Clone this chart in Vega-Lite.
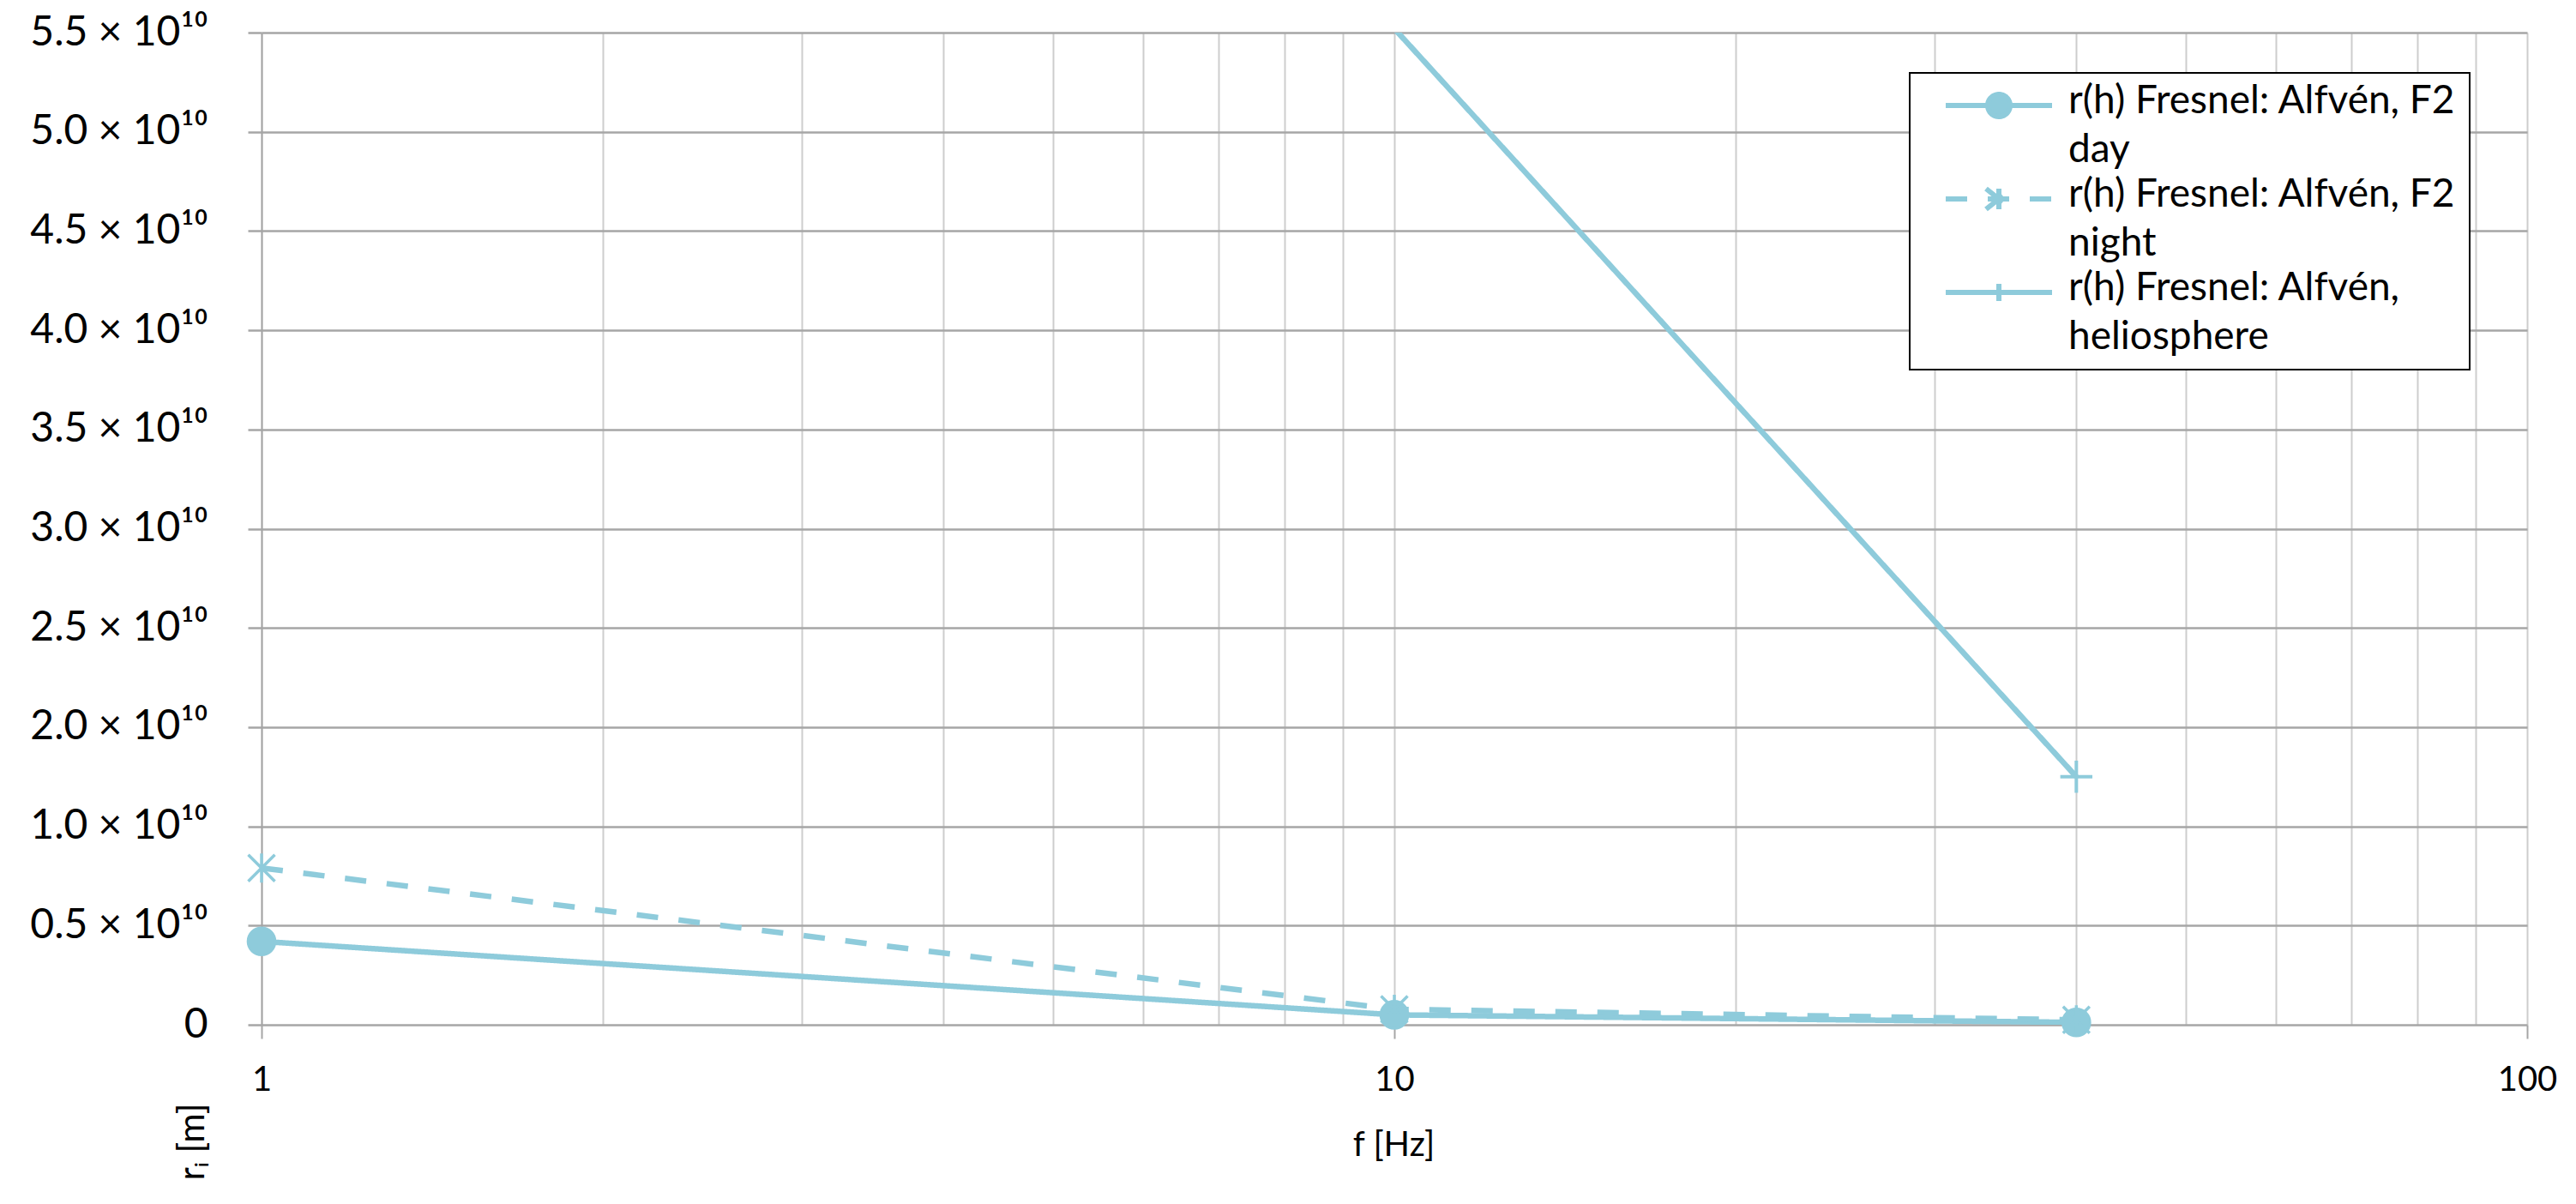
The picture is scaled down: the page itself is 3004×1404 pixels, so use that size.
{
  "$schema": "https://vega.github.io/schema/vega-lite/v6.json",
  "width": 2642,
  "height": 1157,
  "autosize": {"type": "none"},
  "padding": {"left": 305, "top": 38, "right": 57, "bottom": 209},
  "background": "white",
  "config": {"view": {"stroke": null}, "font": "Lato"},
  "data": {
    "values": [
      {"series": "r(h) Fresnel: Alfvén, F2 day", "f": 1, "r": 4.2e9},
      {"series": "r(h) Fresnel: Alfvén, F2 day", "f": 10, "r": 5.0e8},
      {"series": "r(h) Fresnel: Alfvén, F2 day", "f": 40, "r": 1.2e8},
      {"series": "r(h) Fresnel: Alfvén, F2 night", "f": 1, "r": 7.9e9},
      {"series": "r(h) Fresnel: Alfvén, F2 night", "f": 10, "r": 7.8e8},
      {"series": "r(h) Fresnel: Alfvén, F2 night", "f": 40, "r": 2.5e8},
      {"series": "r(h) Fresnel: Alfvén, heliosphere", "f": 10, "r": 5.02e10},
      {"series": "r(h) Fresnel: Alfvén, heliosphere", "f": 40, "r": 1.25e10}
    ]
  },
  "encoding": {
    "x": {
      "field": "f",
      "type": "quantitative",
      "scale": {"type": "log", "domain": [1, 100]},
      "axis": {
        "values": [1, 2, 3, 4, 5, 6, 7, 8, 9, 10, 20, 30, 40, 50, 60, 70, 80, 90, 100],
        "labelExpr": "indexof([1, 10, 100], datum.value) >= 0 ? format(datum.value, 'd') : ''",
        "labelFont": "Lato",
        "labelFontSize": 40,
        "labelColor": "#000000",
        "labelBaseline": "middle",
        "labelPadding": 48,
        "labelFlush": false,
        "labelOverlap": false,
        "labelBound": false,
        "tickSize": 16,
        "tickWidth": 2,
        "tickColor": "#a6a6a6",
        "tickOpacity": {"condition": {"test": "indexof([1, 10, 100], datum.value) >= 0", "value": 1}, "value": 0},
        "gridColor": {"condition": {"test": "datum.value === 1", "value": "#9e9e9e"}, "value": "#cdcdcd"},
        "gridWidth": 2,
        "domain": false,
        "title": "f [Hz]",
        "titleFont": "Lato",
        "titleFontSize": 40,
        "titleFontWeight": "normal",
        "titleColor": "#000000",
        "titleX": 1320,
        "titleY": 140,
        "titleBaseline": "middle",
        "titleAlign": "center"
      }
    },
    "y": {
      "field": "r",
      "type": "quantitative",
      "scale": {"domain": [0, 50000000000], "clamp": false},
      "axis": {
        "values": [0, 5000000000, 10000000000, 15000000000, 20000000000, 25000000000, 30000000000, 35000000000, 40000000000, 45000000000, 50000000000],
        "labelExpr": "datum.value == 0 ? '0' : format(datum.value >= 1.4e10 ? datum.value / 1e10 + 0.5 : datum.value / 1e10, '.1f') + ' × 10¹⁰'",
        "labelFont": "Lato",
        "labelFontSize": 48,
        "labelColor": "#000000",
        "labelPadding": 47,
        "labelLimit": 600,
        "labelFlush": false,
        "labelOverlap": false,
        "labelBound": false,
        "tickSize": 16,
        "tickWidth": 2.5,
        "tickColor": "#a6a6a6",
        "gridColor": "#a6a6a6",
        "gridWidth": 2.5,
        "domain": false,
        "title": "rᵢ [m]",
        "titleFont": "Lato",
        "titleFontSize": 42,
        "titleFontWeight": "normal",
        "titleColor": "#000000",
        "titleX": -81,
        "titleY": 1293,
        "titleAngle": 270,
        "titleAlign": "center",
        "titleBaseline": "middle"
      }
    }
  },
  "layer": [
    {
      "mark": {"type": "line", "color": "#8ECBDB", "strokeWidth": 6.5, "clip": true},
      "encoding": {
        "strokeDash": {
          "field": "series",
          "type": "nominal",
          "scale": {
            "domain": ["r(h) Fresnel: Alfvén, F2 day", "r(h) Fresnel: Alfvén, F2 night", "r(h) Fresnel: Alfvén, heliosphere"],
            "range": [[1, 0], [25, 24], [1, 0]]
          },
          "legend": {
            "orient": "none",
            "legendX": 1922,
            "legendY": 47,
            "title": null,
            "direction": "vertical",
            "strokeColor": "#000000",
            "fillColor": "#ffffff",
            "padding": 15,
            "symbolOffset": 66,
            "labelFont": "Lato",
            "labelFontSize": 46,
            "labelColor": "#000000",
            "labelLimit": 1000,
            "labelOffset": 58,
            "labelBaseline": "top",
            "rowPadding": 6,
            "labelExpr": "[substring(datum.label, 0, lastindexof(datum.label, ' ')), substring(datum.label, lastindexof(datum.label, ' ') + 1)]",
            "symbolSize": 1600,
            "symbolStrokeColor": "#8ECBDB",
            "symbolFillColor": "#8ECBDB",
            "symbolStrokeWidth": 6,
            "encode": {
              "legend": {"update": {"strokeWidth": {"value": 2}}},
              "symbols": {
                "update": {
                  "shape": {"signal": "datum.value === 'r(h) Fresnel: Alfvén, F2 day' ? 'M-3.1,0L3.1,0M0.65,0A0.65,0.65,0,1,1,-0.65,0A0.65,0.65,0,1,1,0.65,0Z' : datum.value === 'r(h) Fresnel: Alfvén, F2 night' ? 'M-3.1,0L3.1,0M-0.75,-0.6L0.75,0.6M-0.75,0.6L0.75,-0.6M0,-0.6L0,0.6' : 'M-3.1,0L3.1,0M0,-0.5L0,0.5'"},
                  "fill": {"value": "#8ECBDB"},
                  "stroke": {"value": "#8ECBDB"}
                }
              },
              "labels": {"update": {"lineHeight": {"value": 57}, "dy": {"value": -27}}}
            }
          }
        }
      }
    },
    {
      "transform": [{"filter": "datum.series === 'r(h) Fresnel: Alfvén, F2 day'"}],
      "mark": {"type": "point", "shape": "circle", "size": 1000, "filled": true, "fill": "#8ECBDB", "stroke": "#8ECBDB", "strokeWidth": 3, "opacity": 1, "clip": false}
    },
    {
      "transform": [{"filter": "datum.series === 'r(h) Fresnel: Alfvén, F2 night'"}],
      "mark": {"type": "point", "shape": "M-1,-1L1,1M-1,1L1,-1M0,-1.1L0,1.1", "size": 961, "filled": false, "stroke": "#8ECBDB", "strokeWidth": 3.5, "opacity": 1, "clip": false}
    },
    {
      "transform": [{"filter": "datum.series === 'r(h) Fresnel: Alfvén, heliosphere' && datum.r <= 5e10"}],
      "mark": {"type": "point", "shape": "M-1,0L1,0M0,-1L0,1", "size": 1400, "filled": false, "stroke": "#8ECBDB", "strokeWidth": 4, "opacity": 1, "clip": false}
    }
  ]
}
